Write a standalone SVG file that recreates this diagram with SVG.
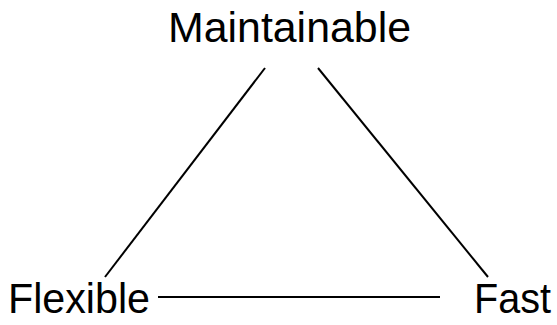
<svg xmlns="http://www.w3.org/2000/svg" width="557" height="325" viewBox="0 0 557 325">
<style>
.lbl{font-family:"Liberation Sans",Arial,sans-serif;font-size:42px;fill:#000}
.edge{stroke:#000;stroke-width:2;fill:none}
</style>
<rect width="557" height="325" fill="#fff"/>
<g id="connectors">
<line class="edge" x1="265" y1="68" x2="105" y2="277"/>
<line class="edge" x1="318" y1="68" x2="488" y2="277"/>
<line class="edge" x1="158" y1="297" x2="440" y2="297"/>
</g>
<g id="maintainable"><text class="lbl" x="168" y="42" textLength="243" lengthAdjust="spacingAndGlyphs">Maintainable</text></g>
<g id="flexible"><text class="lbl" x="8" y="313" textLength="142" lengthAdjust="spacingAndGlyphs">Flexible</text></g>
<g id="fast"><text class="lbl" x="474" y="313" textLength="77" lengthAdjust="spacingAndGlyphs">Fast</text></g>
</svg>
